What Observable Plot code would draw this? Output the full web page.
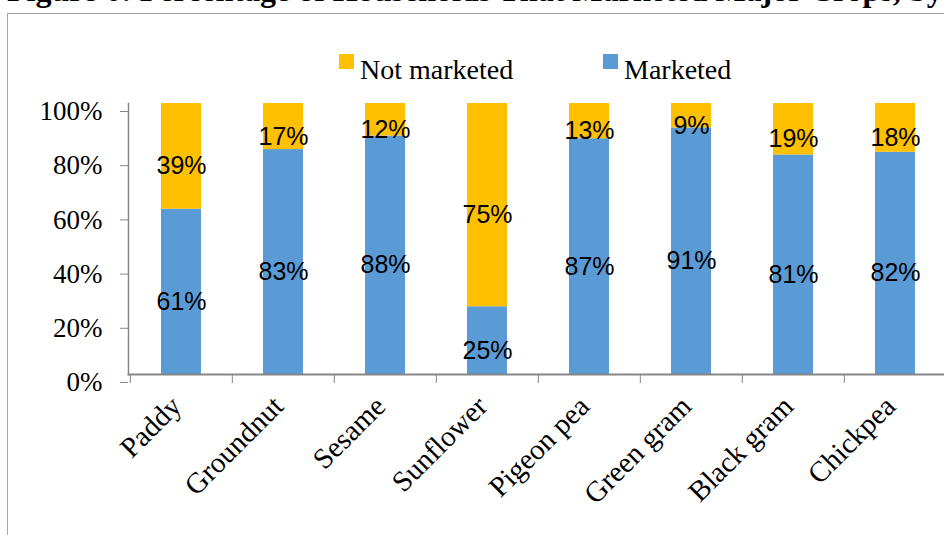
<!DOCTYPE html>
<html>
<head>
<meta charset="utf-8">
<script src="https://cdn.jsdelivr.net/npm/d3@7"></script>
<script src="https://cdn.jsdelivr.net/npm/@observablehq/plot@0.6"></script>
<style>
  html, body { margin: 0; padding: 0; background: #fff; overflow: hidden; width: 944px; height: 535px; }
  #title { position: absolute; left: 7px; top: -26px; font: bold 32px "Liberation Serif", serif; line-height: 32px; white-space: nowrap; color: #000; }
  #frame { position: absolute; left: 7px; top: 13px; width: 1000px; height: 600px; border: 1.5px solid #a6a6a6; box-sizing: border-box; }
  #wrap { position: absolute; left: 0; top: 0; }
  #legend { position: relative; height: 90px; font: 28px "Liberation Serif", serif; }
  .item { position: absolute; top: 54px; display: flex; align-items: flex-start; }
  .sw { width: 15px; height: 15px; margin-right: 6px; }
  .lab { line-height: 28px; margin-top: 2px; }
  #chart svg { max-width: none !important; }
</style>
</head>
<body>
<div id="frame"></div>
<div id="title">Figure 6: Percentage of Households That Marketed Major Crops, by</div>
<div id="wrap">
  <div id="legend"></div>
  <div id="chart"></div>
</div>
<script>
const crops = ["Paddy", "Groundnut", "Sesame", "Sunflower", "Pigeon pea", "Green gram", "Black gram", "Chickpea"];
const marketed    = [61, 83, 88, 25, 87, 91, 81, 82];
const notMarketed = [39, 17, 12, 75, 13, 9, 19, 18];
const seriesNames = ["Marketed", "Not marketed"];
const seriesColors = ["#5B9BD5", "#FFC000"];
const yTicks = [0, 20, 40, 60, 80, 100];

const data = [
  ...crops.map((c, i) => ({crop: c, status: "Marketed", value: marketed[i] / 100})),
  ...crops.map((c, i) => ({crop: c, status: "Not marketed", value: notMarketed[i] / 100}))
];

// legend (HTML, above the SVG)
const legend = document.getElementById("legend");
const legendItems = [{name: "Not marketed", left: 339}, {name: "Marketed", left: 603}];
for (const it of legendItems) {
  const d = document.createElement("div");
  d.className = "item";
  d.style.left = it.left + "px";
  const sw = document.createElement("div");
  sw.className = "sw";
  sw.style.background = seriesColors[seriesNames.indexOf(it.name)];
  const lab = document.createElement("div");
  lab.className = "lab";
  lab.textContent = it.name;
  d.append(sw, lab);
  legend.append(d);
}

const W = 960, H = 445, ML = 128, MR = 13, MT = 13, MB = 161;
const step = (W - ML - MR) / crops.length;
const gray = "#868686";

const chart = Plot.plot({
  width: W,
  height: H,
  marginLeft: ML,
  marginRight: MR,
  marginTop: MT,
  marginBottom: MB,
  style: {fontFamily: "Liberation Serif, serif", fontSize: "27px", color: "#000", background: "transparent", overflow: "visible", maxWidth: "none"},
  x: {domain: crops, paddingInner: 0.61, paddingOuter: 0.305, axis: null, label: null},
  y: {domain: [0, 1], axis: null, label: null},
  color: {domain: seriesNames, range: seriesColors},
  marks: [
    Plot.barY(data, Plot.stackY({x: "crop", y: "value", fill: "status", z: "status", order: seriesNames})),
    Plot.text(data, Plot.stackY({
      x: "crop", y: "value", z: "status", order: seriesNames,
      text: d => Math.round(d.value * 100) + "%",
      fill: "#000", fontFamily: "Liberation Sans, sans-serif", fontSize: 25, dy: 10
    })),
    Plot.frame({anchor: "left", stroke: gray, strokeWidth: 1.5}),
    Plot.frame({anchor: "bottom", stroke: gray, strokeWidth: 2}),
    Plot.axisY({
      ticks: yTicks.map(v => v / 100), tickFormat: d => Math.round(d * 100) + "%",
      tickSize: 8, tickPadding: 18, dy: 8, stroke: gray, fill: "#000", fontSize: 27, label: null
    }),
    Plot.axisX({tickSize: 9, tickFormat: () => "", dx: -step / 2, stroke: gray, label: null}),
    Plot.axisX({tickSize: 0, tickRotate: -45, tickPadding: 14, fill: "#000", fontSize: 29, dx: -5, dy: 13, label: null})
  ]
});
document.getElementById("chart").append(chart);
</script>
</body>
</html>
